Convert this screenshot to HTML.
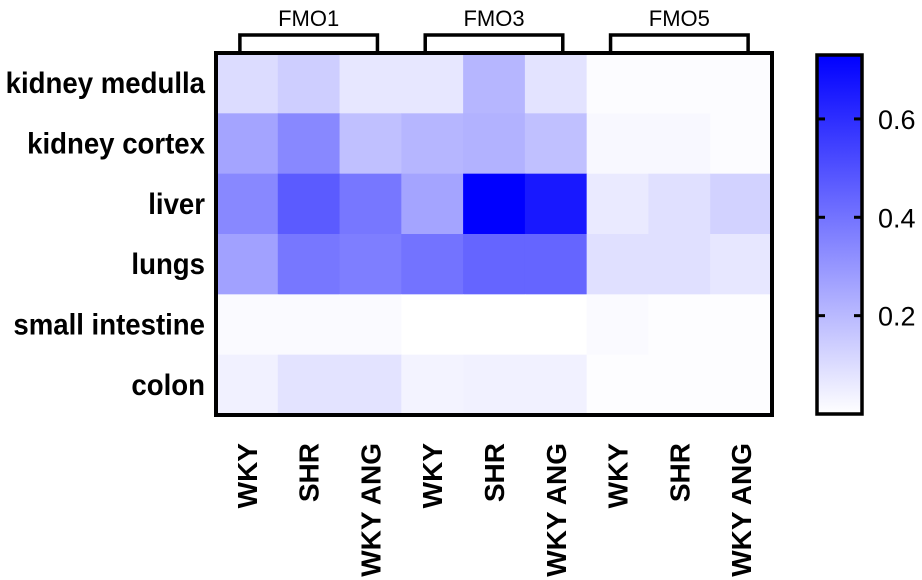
<!DOCTYPE html>
<html><head><meta charset="utf-8">
<style>
html,body{margin:0;padding:0;background:#fff;width:922px;height:580px;overflow:hidden}
svg text{font-family:"Liberation Sans",Arial,sans-serif}
</style></head>
<body>
<svg id="chart" width="922" height="580" viewBox="0 0 922 580" xmlns="http://www.w3.org/2000/svg">
<defs>
<linearGradient id="cbgrad" x1="0" y1="1" x2="0" y2="0">
<stop offset="0" stop-color="#ffffff"/><stop offset="1" stop-color="#0000ff"/>
</linearGradient>
</defs>
<g id="cells"></g>
<rect x="216" y="53" width="556" height="362" fill="none" stroke="#000" stroke-width="4"/>
<g id="rowlabels"></g>
<g id="collabels"></g>
<g id="groups"></g>
<g id="colorbar"></g>
</svg>
<script>
const rows = ["kidney medulla","kidney cortex","liver","lungs","small intestine","colon"];
const cols = ["WKY","SHR","WKY ANG","WKY","SHR","WKY ANG","WKY","SHR","WKY ANG"];
const groups = ["FMO1","FMO3","FMO5"];
const valKidneyMedulla = [0.10,0.14,0.07,0.07,0.21,0.08,0.01,0.01,0.01];
const valKidneyCortex = [0.26,0.34,0.18,0.21,0.22,0.18,0.02,0.02,0.01];
const valLiver = [0.34,0.47,0.39,0.26,0.73,0.66,0.06,0.09,0.13];
const valLungs = [0.27,0.39,0.37,0.40,0.44,0.44,0.09,0.09,0.07];
const valSmallIntestine = [0.015,0.015,0.015,0,0,0,0.015,0.005,0.005];
const valColon = [0.04,0.08,0.08,0.035,0.04,0.04,0.005,0.005,0.005];
const colorTicks = [0.2,0.4,0.6];
const colorMin = 0, colorMax = 0.73;

const values = [valKidneyMedulla,valKidneyCortex,valLiver,valLungs,valSmallIntestine,valColon];
const NS = "http://www.w3.org/2000/svg";
const X0=216, X1=772, Y0=53, Y1=415;
const cw=(X1-X0)/cols.length, rh=(Y1-Y0)/rows.length;
const xPos = i => X0 + i*cw;
const yPos = j => Y0 + j*rh;
function color(v){
  let t=Math.max(0,Math.min(1,(v-colorMin)/(colorMax-colorMin)));
  const c=Math.round(255*(1-t));
  return `rgb(${c},${c},255)`;
}
function mk(tag,attrs,parent){const e=document.createElementNS(NS,tag);for(const k in attrs)e.setAttribute(k,attrs[k]);parent.appendChild(e);return e;}

const gc=document.getElementById('cells');
values.forEach((row,j)=>row.forEach((v,i)=>{
  const r=mk('rect',{x:xPos(i),y:yPos(j),width:cw+0.5,height:rh+0.5,fill:color(v)},gc);
  
  
}));

const gr=document.getElementById('rowlabels');
rows.forEach((name,j)=>{
  const y=yPos(j)+rh/2+10;
  const t=mk('text',{x:0,y:0,'text-anchor':'end','font-size':'30','font-weight':'bold',transform:`translate(205 ${y}) scale(0.92 1)`},gr);
  t.textContent=name;
  
  
});

const gl=document.getElementById('collabels');
cols.forEach((name,i)=>{
  const cx=xPos(i)+cw/2+10;
  const t=mk('text',{x:cx,y:443,'text-anchor':'end','font-size':'28','font-weight':'bold',transform:`rotate(-90 ${cx} 443)`},gl);
  t.textContent=name;
  
  
});

const gg=document.getElementById('groups');
groups.forEach((name,k)=>{
  const a=xPos(k*3)+cw/2-7, b=xPos(k*3+2)+cw/2+7;
  const p=mk('path',{d:`M${a} 52 V35 H${b} V52`,fill:'none',stroke:'#000','stroke-width':'3.5'},gg);
  
  
  const t=mk('text',{x:(a+b)/2,y:26,'text-anchor':'middle','font-size':'22'},gg);
  t.textContent=name;
  
  
});

const gcb=document.getElementById('colorbar');
const CX0=817, CX1=862, CY0=55, CY1=414;
const cbY = v => CY1 - (v-colorMin)/(colorMax-colorMin)*(CY1-CY0);
const cbr=mk('rect',{x:CX0,y:CY0,width:CX1-CX0,height:CY1-CY0,fill:'url(#cbgrad)',stroke:'#000','stroke-width':'3.5'},gcb);


colorTicks.forEach(v=>{
  const y=cbY(v);
  const l1=mk('line',{x1:CX0,x2:CX0+8,y1:y,y2:y,stroke:'#000','stroke-width':'3'},gcb);
  
  
  const l2=mk('line',{x1:CX1-8,x2:CX1,y1:y,y2:y,stroke:'#000','stroke-width':'3'},gcb);
  
  
  const t=mk('text',{x:878,y:y+10,'font-size':'27'},gcb);
  t.textContent=v.toFixed(1);
  
  
});
</script>
</body></html>
